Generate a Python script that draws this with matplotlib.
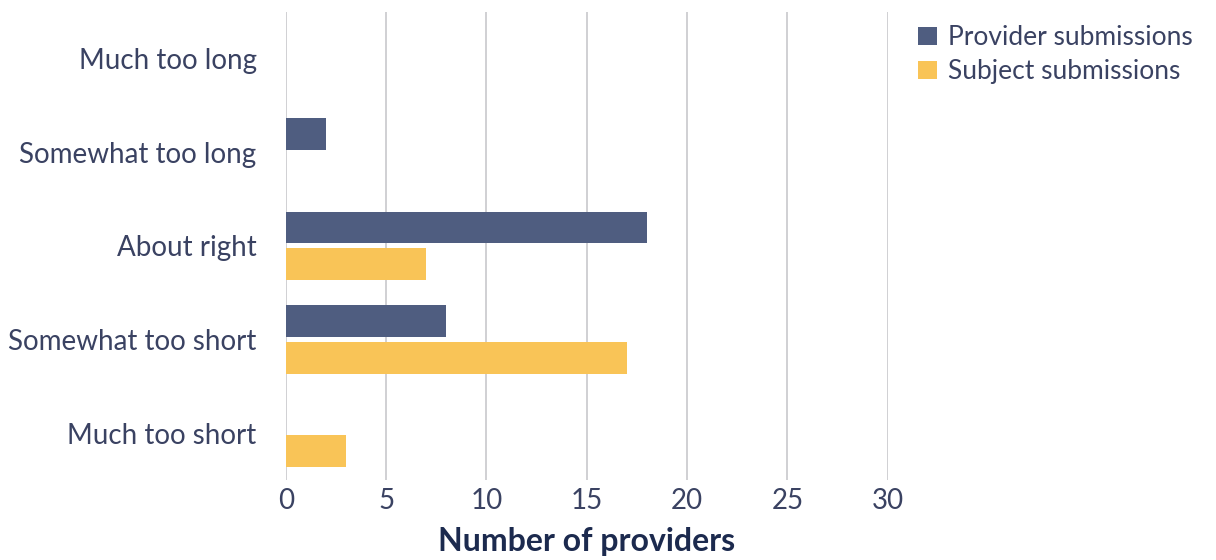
import matplotlib as mpl

mpl.use('Agg')
import matplotlib.pyplot as plt
import numpy as np

categories = ['Much too long', 'Somewhat too long', 'About right',
              'Somewhat too short', 'Much too short']
provider = [0, 2, 18, 8, 0]
subject = [0, 0, 7, 17, 3]
xticks = [0, 5, 10, 15, 20, 25, 30]

plt.rcParams['font.family'] = ['Lato', 'DejaVu Sans']
text_color = '#3a4262'
navy = '#4f5d80'
yellow = '#f9c457'

fig = plt.figure(figsize=(12.16, 5.6), dpi=100)
ax = fig.add_axes([0.235, 0.143, 0.495, 0.836])

y = np.arange(len(categories))
h = 0.34
off = 0.195
ax.barh(y - off, provider, height=h, color=navy, label='Provider submissions', zorder=3)
ax.barh(y + off, subject, height=h, color=yellow, label='Subject submissions', zorder=3)

ax.set_ylim(4.5, -0.5)
ax.set_xlim(0, 30)
ax.set_yticks(y)
ax.set_yticklabels(categories, fontsize=20, color=text_color)
ax.set_xticks(xticks)
ax.set_xticklabels([str(t) for t in xticks], fontsize=20, color=text_color)
ax.tick_params(axis='both', length=0)
ax.tick_params(axis='y', pad=21)
ax.tick_params(axis='x', pad=6)
ax.grid(axis='x', color='#c8c8cc', lw=1.2, zorder=0)
for s in ax.spines.values():
    s.set_visible(False)
ax.set_xlabel('Number of providers', fontsize=23, fontweight='bold',
              color='#1c2a4e', labelpad=9)

fig.legend(loc='upper left', bbox_to_anchor=(0.755, 0.955), frameon=False,
           fontsize=19, handlelength=0.7, handleheight=0.7, handletextpad=0.45,
           labelspacing=0.35, borderpad=0, borderaxespad=0,
           labelcolor=text_color)

plt.savefig('out.png', dpi=100)
